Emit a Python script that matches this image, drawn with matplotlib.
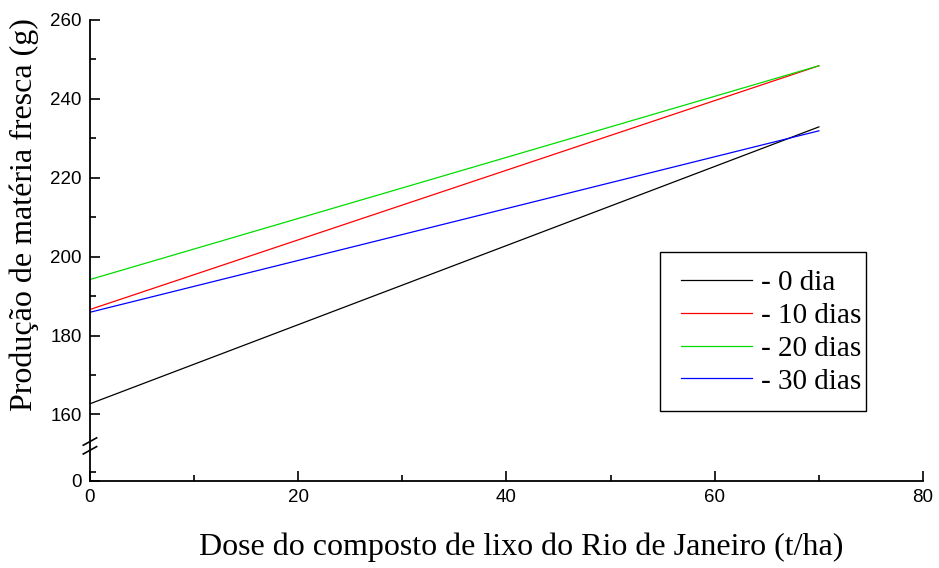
import numpy as np
import matplotlib.pyplot as plt
from matplotlib.patches import Rectangle
from matplotlib.ticker import FixedLocator

# Data (t/ha) and fitted fresh matter production (g)
dose = [0, 70]
y_0dia = [162.7, 232.9]
y_10dias = [186.6, 248.4]
y_20dias = [194.2, 248.4]
y_30dias = [185.9, 231.9]

labels = ['- 0 dia', '- 10 dias', '- 20 dias', '- 30 dias']
colors = ['black', 'red', '#00dd00', 'blue']

# bottom of the broken y axis stands for 0
y_zero = 143.2

fig = plt.figure(figsize=(9.39, 5.68), dpi=100)
ax = fig.add_axes([0.0958, 0.1537, 0.8872, 0.8111])

for ys, lab, c in zip([y_0dia, y_10dias, y_20dias, y_30dias], labels, colors):
    ax.plot(dose, ys, color=c, linewidth=0.9, label=lab)

ax.set_xlim(0, 80)
ax.set_ylim(y_zero, 260)

ax.set_xticks([0, 20, 40, 60, 80])
ax.xaxis.set_minor_locator(FixedLocator([10, 30, 50, 70]))
ax.set_yticks([y_zero, 160, 180, 200, 220, 240, 260])
ax.set_yticklabels(['0', '160', '180', '200', '220', '240', '260'])
ax.yaxis.set_minor_locator(FixedLocator([145.5, 170, 190, 210, 230, 250]))

ax.tick_params(which='both', direction='in', width=1.2,
               labelsize=13.5, labelfontfamily='Liberation Sans', pad=6)
ax.tick_params(which='major', length=7)
ax.tick_params(which='minor', length=4)

ax.spines['top'].set_visible(False)
ax.spines['right'].set_visible(False)
ax.spines['left'].set_linewidth(1.3)
ax.spines['bottom'].set_linewidth(1.3)

# axis break marks
tr = ax.transAxes
for yb in [0.066, 0.085]:
    ax.plot([-0.008, 0.008], [yb - 0.008, yb + 0.008], color='black',
            linewidth=1.2, transform=tr, clip_on=False)

ax.set_xlabel('Dose do composto de lixo do Rio de Janeiro (t/ha)',
              fontfamily='Liberation Serif', fontsize=23)
ax.set_ylabel('Produção de matéria fresca (g)',
              fontfamily='Liberation Serif', fontsize=23)
ax.xaxis.set_label_coords(0.518, -0.113)
ax.yaxis.set_label_coords(-0.061, 0.578)

# legend, with its box drawn separately (wider margin on the left)
leg = ax.legend(loc='upper left', bbox_to_anchor=(0.688, 0.496),
                prop={'family': 'Liberation Serif', 'size': 21},
                frameon=False, handlelength=2.45, handletextpad=0.3,
                labelspacing=0.22, borderpad=0.6, borderaxespad=0)
ax.add_patch(Rectangle((0.684, 0.1513), 0.2476, 0.3447, transform=tr,
                       fill=False, edgecolor='black', linewidth=1.0,
                       zorder=5))

plt.savefig('out.png', dpi=100)
